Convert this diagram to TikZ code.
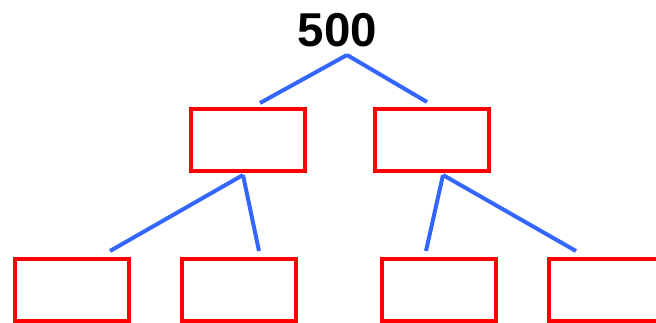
\documentclass[tikz,border=0pt]{standalone}
\usepackage{fontspec}
\setmainfont{Liberation Sans}
\usetikzlibrary{calc}
\definecolor{linkblue}{RGB}{51, 102, 255}
\definecolor{boxred}{RGB}{255, 0, 0}

\begin{document}
\begin{tikzpicture}[
        x=1pt, y=-1pt,
        leaf/.style={
            rectangle,
            draw=boxred,
            line width=4pt,
            minimum width=114pt,
            minimum height=62pt,
            inner sep=0pt
        },
        link/.style={
            draw=linkblue,
            line width=4pt
        },
        value/.style={
            inner sep=0pt,
            font=\fontsize{47.5}{50}\selectfont\bfseries
        }
    ]
        \useasboundingbox (0,0) rectangle (656,323);
        \clip (0,0) rectangle (656,323);

        \node[value] (root) at (337.5,30) {500};
        \coordinate (apex) at (347,55);

        \node[leaf] (left) at (248,140) {};
        \node[leaf] (right) at (431.5,140) {};

        \node[leaf] (ll) at (71.5,290) {};
        \node[leaf] (lr) at (238.5,290) {};
        \node[leaf] (rl) at (438.5,290) {};
        \node[leaf] (rr) at (605.5,290) {};

        \draw[link] (apex) -- ($(left.north)+(12,-4)$);
        \draw[link] (apex) -- ($(right.north)+(-4.5,-5)$);
        \draw[link] ($(left.south)+(-5,2)$) -- ($(ll.north)+(38.5,-6)$);
        \draw[link] ($(left.south)+(-5,2)$) -- ($(lr.north)+(20.5,-6)$);
        \draw[link] ($(right.south)+(11.5,2)$) -- ($(rl.north)+(-12.5,-6)$);
        \draw[link] ($(right.south)+(11.5,2)$) -- ($(rr.north)+(-29.5,-6)$);
    \end{tikzpicture}
\end{document}
